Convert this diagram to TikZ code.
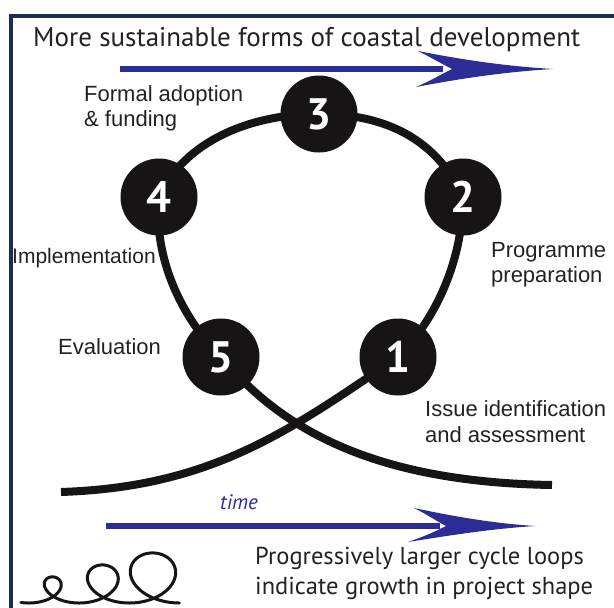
\documentclass[tikz,border=0pt]{standalone}
\usepackage{fontspec}
\setmainfont{Liberation Sans}
\newfontfamily\humanist{PT Sans}
\usetikzlibrary{calc,backgrounds}
\definecolor{ink}{HTML}{161414}
\definecolor{frame}{HTML}{1E2C52}
\definecolor{flow}{HTML}{2C2C96}
\definecolor{labeltext}{HTML}{222222}

\begin{document}
\begin{tikzpicture}[x=1pt,y=-1pt,
  stage/.style={circle, fill=ink, minimum size=77pt, inner sep=0pt, text=white,
    font=\humanist\bfseries\fontsize{44}{44}\selectfont},
  lbl/.style={inner sep=0pt, text=labeltext, font=\fontsize{22}{26}\selectfont},
  cycleline/.style={draw=ink, line width=8pt},
  shaft/.style={draw=flow, line width=6pt},
  head/.style={fill=flow},
  note/.style={inner sep=0pt, anchor=base west, text=labeltext,
    font=\humanist\fontsize{24.5}{24.5}\selectfont},
]
\useasboundingbox (0,0) rectangle (614,608);
\clip (0,0) rectangle (614,608);

% frame (only the left and top edges fall inside the page)
\draw[frame, line width=3.5pt] (11,640) -- (11,16) -- (640,16);

% heading and its arrow
\node[inner sep=0pt, anchor=base west, font=\humanist\fontsize{30}{30}\selectfont, text=labeltext]
  (title) at (33,46) {\resizebox{547pt}{!}{More sustainable forms of coastal development}};
\coordinate (ta0) at (120,69);
\coordinate (ta1) at (553,69);
\draw[shaft] (ta0) -- ($(ta1)+(-110,0)$);
\fill[head] (ta1) .. controls (503,66) and (458,59) .. (418,51)
  .. controls (432,58) and (444,65) .. (452,69)
  .. controls (444,73) and (430,81) .. (416,87)
  .. controls (458,79) and (503,72) .. (ta1) -- cycle;

% the five stages
\node[stage] (n1) at (398,357) {1};
\node[stage] (n2) at (463,197) {2};
\node[stage] (n3) at (319,114) {3};
\node[stage] (n4) at (159,197) {4};
\node[stage] (n5) at (221,357) {5};

\coordinate (s) at (61,492);
\coordinate (e) at (552,485);
\begin{scope}[on background layer]
\draw[cycleline] (s) .. controls ($(s)+(150,-5)$) and ($(n1)+(-110,75)$) .. (n1.center)
  .. controls ($(n1)+(40,-40)$) and ($(n2)+(0,60)$) .. (n2.center)
  .. controls ($(n2)+(-25,-55)$) and ($(n3)+(70,0)$) .. (n3.center)
  .. controls ($(n3)+(-70,0)$) and ($(n4)+(25,-55)$) .. (n4.center)
  .. controls ($(n4)+(-6,60)$) and ($(n5)+(-40,-40)$) .. (n5.center)
  .. controls ($(n5)+(55,65)$) and ($(e)+(-190,-3)$) .. (e);
\end{scope}

% stage labels
\node[lbl, anchor=base west] (l3a) at (84,101) {Formal adoption};
\node[lbl, anchor=base west] (l3b) at (84,126) {\& funding};
\node[lbl, anchor=base west, font=\fontsize{21}{25}\selectfont] (l4) at (12,263) {Implementation};
\node[lbl, anchor=base west] (l2a) at (491,257) {Programme};
\node[lbl, anchor=base west] (l2b) at (491,282) {preparation};
\node[lbl, anchor=base west] (l5) at (58,354) {Evaluation};
\node[lbl, anchor=base west] (l1a) at (425,416) {Issue identification};
\node[lbl, anchor=base west] (l1b) at (425,442) {and assessment};

% time axis
\node[inner sep=0pt, anchor=base west, text=flow, font=\humanist\itshape\fontsize{21}{21}\selectfont]
  (time) at (220,509) {time};
\coordinate (ba0) at (106,526);
\coordinate (ba1) at (535,526);
\draw[shaft] (ba0) -- ($(ba1)+(-95,0)$);
\fill[head] (ba1) .. controls (490,523) and (452,516) .. (414,508)
  .. controls (428,515) and (438,522) .. (446,526)
  .. controls (438,530) and (426,536) .. (408,542)
  .. controls (452,535) and (490,529) .. (ba1) -- cycle;

% growing loops: a curl whose height and width grow along the stroke
\draw[ink, line width=3pt, line cap=round] plot[domain=-0.35:18.85, samples=500, smooth]
  ({54+8*(\x-pi)+(1.25*(13+0.955*(\x-pi))+3)*sin(\x r)},
   {603-(13+0.955*(\x-pi))*(1-cos(\x r))});

\node[note] (note1) at (255,564) {Progressively larger cycle loops};
\node[note] (note2) at (255,594) {indicate growth in project shape};
\end{tikzpicture}
\end{document}
